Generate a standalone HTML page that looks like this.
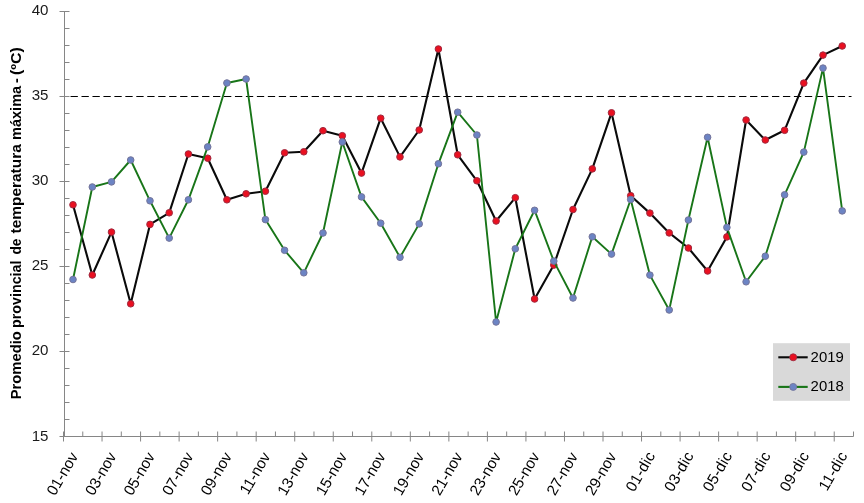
<!DOCTYPE html>
<html lang="es"><head><meta charset="utf-8"><title>Promedio provincial de temperatura máxima</title>
<style>html,body{margin:0;padding:0;background:#fff;overflow:hidden}svg{display:block}</style></head>
<body>
<svg width="864" height="503" viewBox="0 0 864 503" style="display:block">
<rect width="864" height="503" fill="#fff"/>
<g stroke="#868686" stroke-width="1" fill="none" shape-rendering="auto">
<line x1="64.5" y1="11.5" x2="64.5" y2="436.5"/>
<line x1="64.5" y1="436.5" x2="853.5" y2="436.5"/>
<line x1="59.5" y1="436.5" x2="69.5" y2="436.5"/>
<line x1="64.5" y1="419.5" x2="69.5" y2="419.5"/>
<line x1="64.5" y1="402.5" x2="69.5" y2="402.5"/>
<line x1="64.5" y1="385.5" x2="69.5" y2="385.5"/>
<line x1="64.5" y1="368.5" x2="69.5" y2="368.5"/>
<line x1="59.5" y1="351.5" x2="69.5" y2="351.5"/>
<line x1="64.5" y1="334.5" x2="69.5" y2="334.5"/>
<line x1="64.5" y1="317.5" x2="69.5" y2="317.5"/>
<line x1="64.5" y1="300.5" x2="69.5" y2="300.5"/>
<line x1="64.5" y1="283.5" x2="69.5" y2="283.5"/>
<line x1="59.5" y1="266.5" x2="69.5" y2="266.5"/>
<line x1="64.5" y1="249.5" x2="69.5" y2="249.5"/>
<line x1="64.5" y1="232.5" x2="69.5" y2="232.5"/>
<line x1="64.5" y1="215.5" x2="69.5" y2="215.5"/>
<line x1="64.5" y1="198.5" x2="69.5" y2="198.5"/>
<line x1="59.5" y1="181.5" x2="69.5" y2="181.5"/>
<line x1="64.5" y1="164.5" x2="69.5" y2="164.5"/>
<line x1="64.5" y1="147.5" x2="69.5" y2="147.5"/>
<line x1="64.5" y1="130.5" x2="69.5" y2="130.5"/>
<line x1="64.5" y1="113.5" x2="69.5" y2="113.5"/>
<line x1="59.5" y1="96.5" x2="69.5" y2="96.5"/>
<line x1="64.5" y1="79.5" x2="69.5" y2="79.5"/>
<line x1="64.5" y1="62.5" x2="69.5" y2="62.5"/>
<line x1="64.5" y1="45.5" x2="69.5" y2="45.5"/>
<line x1="64.5" y1="28.5" x2="69.5" y2="28.5"/>
<line x1="59.5" y1="11.5" x2="69.5" y2="11.5"/>
<line x1="63.50" y1="431.5" x2="63.50" y2="441.5"/>
<line x1="82.77" y1="431.5" x2="82.77" y2="436.5"/>
<line x1="102.04" y1="431.5" x2="102.04" y2="441.5"/>
<line x1="121.30" y1="431.5" x2="121.30" y2="436.5"/>
<line x1="140.57" y1="431.5" x2="140.57" y2="441.5"/>
<line x1="159.84" y1="431.5" x2="159.84" y2="436.5"/>
<line x1="179.11" y1="431.5" x2="179.11" y2="441.5"/>
<line x1="198.38" y1="431.5" x2="198.38" y2="436.5"/>
<line x1="217.64" y1="431.5" x2="217.64" y2="441.5"/>
<line x1="236.91" y1="431.5" x2="236.91" y2="436.5"/>
<line x1="256.18" y1="431.5" x2="256.18" y2="441.5"/>
<line x1="275.45" y1="431.5" x2="275.45" y2="436.5"/>
<line x1="294.72" y1="431.5" x2="294.72" y2="441.5"/>
<line x1="313.98" y1="431.5" x2="313.98" y2="436.5"/>
<line x1="333.25" y1="431.5" x2="333.25" y2="441.5"/>
<line x1="352.52" y1="431.5" x2="352.52" y2="436.5"/>
<line x1="371.79" y1="431.5" x2="371.79" y2="441.5"/>
<line x1="391.06" y1="431.5" x2="391.06" y2="436.5"/>
<line x1="410.32" y1="431.5" x2="410.32" y2="441.5"/>
<line x1="429.59" y1="431.5" x2="429.59" y2="436.5"/>
<line x1="448.86" y1="431.5" x2="448.86" y2="441.5"/>
<line x1="468.13" y1="431.5" x2="468.13" y2="436.5"/>
<line x1="487.40" y1="431.5" x2="487.40" y2="441.5"/>
<line x1="506.66" y1="431.5" x2="506.66" y2="436.5"/>
<line x1="525.93" y1="431.5" x2="525.93" y2="441.5"/>
<line x1="545.20" y1="431.5" x2="545.20" y2="436.5"/>
<line x1="564.47" y1="431.5" x2="564.47" y2="441.5"/>
<line x1="583.74" y1="431.5" x2="583.74" y2="436.5"/>
<line x1="603.00" y1="431.5" x2="603.00" y2="441.5"/>
<line x1="622.27" y1="431.5" x2="622.27" y2="436.5"/>
<line x1="641.54" y1="431.5" x2="641.54" y2="441.5"/>
<line x1="660.81" y1="431.5" x2="660.81" y2="436.5"/>
<line x1="680.08" y1="431.5" x2="680.08" y2="441.5"/>
<line x1="699.34" y1="431.5" x2="699.34" y2="436.5"/>
<line x1="718.61" y1="431.5" x2="718.61" y2="441.5"/>
<line x1="737.88" y1="431.5" x2="737.88" y2="436.5"/>
<line x1="757.15" y1="431.5" x2="757.15" y2="441.5"/>
<line x1="776.42" y1="431.5" x2="776.42" y2="436.5"/>
<line x1="795.68" y1="431.5" x2="795.68" y2="441.5"/>
<line x1="814.95" y1="431.5" x2="814.95" y2="436.5"/>
<line x1="834.22" y1="431.5" x2="834.22" y2="441.5"/>
<line x1="853.49" y1="431.5" x2="853.49" y2="436.5"/>
</g>
<line x1="70.55" y1="96.5" x2="851.5" y2="96.5" stroke="#000" stroke-width="1.2" stroke-dasharray="7.3 3.66"/>
<polyline points="73.0,204.8 92.3,275.0 111.5,232.1 130.7,303.8 150.0,224.4 169.2,212.8 188.4,154.0 207.7,158.2 226.9,199.8 246.1,193.8 265.4,191.2 284.6,152.8 303.8,151.8 323.0,130.7 342.3,135.7 361.5,173.1 380.7,118.2 400.0,156.9 419.2,130.0 438.4,49.0 457.7,154.8 476.9,180.8 496.1,221.0 515.3,197.7 534.6,299.0 553.8,265.1 573.0,209.5 592.3,168.9 611.5,112.8 630.7,195.7 649.9,213.1 669.2,232.9 688.4,248.0 707.6,271.0 726.9,236.9 746.1,120.0 765.3,140.0 784.6,130.3 803.8,83.1 823.0,55.1 842.2,46.0" fill="none" stroke="#0a0a0a" stroke-width="2.1" stroke-linejoin="round"/>
<g fill="#ea1020" stroke="#a02a40" stroke-width="1">
<circle cx="73.0" cy="204.8" r="3.3"/>
<circle cx="92.3" cy="275.0" r="3.3"/>
<circle cx="111.5" cy="232.1" r="3.3"/>
<circle cx="130.7" cy="303.8" r="3.3"/>
<circle cx="150.0" cy="224.4" r="3.3"/>
<circle cx="169.2" cy="212.8" r="3.3"/>
<circle cx="188.4" cy="154.0" r="3.3"/>
<circle cx="207.7" cy="158.2" r="3.3"/>
<circle cx="226.9" cy="199.8" r="3.3"/>
<circle cx="246.1" cy="193.8" r="3.3"/>
<circle cx="265.4" cy="191.2" r="3.3"/>
<circle cx="284.6" cy="152.8" r="3.3"/>
<circle cx="303.8" cy="151.8" r="3.3"/>
<circle cx="323.0" cy="130.7" r="3.3"/>
<circle cx="342.3" cy="135.7" r="3.3"/>
<circle cx="361.5" cy="173.1" r="3.3"/>
<circle cx="380.7" cy="118.2" r="3.3"/>
<circle cx="400.0" cy="156.9" r="3.3"/>
<circle cx="419.2" cy="130.0" r="3.3"/>
<circle cx="438.4" cy="49.0" r="3.3"/>
<circle cx="457.7" cy="154.8" r="3.3"/>
<circle cx="476.9" cy="180.8" r="3.3"/>
<circle cx="496.1" cy="221.0" r="3.3"/>
<circle cx="515.3" cy="197.7" r="3.3"/>
<circle cx="534.6" cy="299.0" r="3.3"/>
<circle cx="553.8" cy="265.1" r="3.3"/>
<circle cx="573.0" cy="209.5" r="3.3"/>
<circle cx="592.3" cy="168.9" r="3.3"/>
<circle cx="611.5" cy="112.8" r="3.3"/>
<circle cx="630.7" cy="195.7" r="3.3"/>
<circle cx="649.9" cy="213.1" r="3.3"/>
<circle cx="669.2" cy="232.9" r="3.3"/>
<circle cx="688.4" cy="248.0" r="3.3"/>
<circle cx="707.6" cy="271.0" r="3.3"/>
<circle cx="726.9" cy="236.9" r="3.3"/>
<circle cx="746.1" cy="120.0" r="3.3"/>
<circle cx="765.3" cy="140.0" r="3.3"/>
<circle cx="784.6" cy="130.3" r="3.3"/>
<circle cx="803.8" cy="83.1" r="3.3"/>
<circle cx="823.0" cy="55.1" r="3.3"/>
<circle cx="842.2" cy="46.0" r="3.3"/>
</g>
<polyline points="73.0,279.5 92.3,187.0 111.5,181.9 130.7,160.0 150.0,200.8 169.2,238.1 188.4,199.8 207.7,146.9 226.9,83.0 246.1,79.0 265.4,219.6 284.6,250.3 303.8,272.8 323.0,233.0 342.3,142.0 361.5,196.9 380.7,223.2 400.0,257.3 419.2,223.9 438.4,163.8 457.7,112.2 476.9,135.0 496.1,322.0 515.3,248.8 534.6,210.3 553.8,261.1 573.0,298.0 592.3,236.8 611.5,254.1 630.7,199.5 649.9,275.1 669.2,310.0 688.4,220.0 707.6,137.3 726.9,227.4 746.1,281.8 765.3,256.2 784.6,194.8 803.8,152.1 823.0,68.1 842.2,210.9" fill="none" stroke="#187518" stroke-width="1.9" stroke-linejoin="round"/>
<g fill="#6c84c4" stroke="#74749a" stroke-width="1">
<circle cx="73.0" cy="279.5" r="3.3"/>
<circle cx="92.3" cy="187.0" r="3.3"/>
<circle cx="111.5" cy="181.9" r="3.3"/>
<circle cx="130.7" cy="160.0" r="3.3"/>
<circle cx="150.0" cy="200.8" r="3.3"/>
<circle cx="169.2" cy="238.1" r="3.3"/>
<circle cx="188.4" cy="199.8" r="3.3"/>
<circle cx="207.7" cy="146.9" r="3.3"/>
<circle cx="226.9" cy="83.0" r="3.3"/>
<circle cx="246.1" cy="79.0" r="3.3"/>
<circle cx="265.4" cy="219.6" r="3.3"/>
<circle cx="284.6" cy="250.3" r="3.3"/>
<circle cx="303.8" cy="272.8" r="3.3"/>
<circle cx="323.0" cy="233.0" r="3.3"/>
<circle cx="342.3" cy="142.0" r="3.3"/>
<circle cx="361.5" cy="196.9" r="3.3"/>
<circle cx="380.7" cy="223.2" r="3.3"/>
<circle cx="400.0" cy="257.3" r="3.3"/>
<circle cx="419.2" cy="223.9" r="3.3"/>
<circle cx="438.4" cy="163.8" r="3.3"/>
<circle cx="457.7" cy="112.2" r="3.3"/>
<circle cx="476.9" cy="135.0" r="3.3"/>
<circle cx="496.1" cy="322.0" r="3.3"/>
<circle cx="515.3" cy="248.8" r="3.3"/>
<circle cx="534.6" cy="210.3" r="3.3"/>
<circle cx="553.8" cy="261.1" r="3.3"/>
<circle cx="573.0" cy="298.0" r="3.3"/>
<circle cx="592.3" cy="236.8" r="3.3"/>
<circle cx="611.5" cy="254.1" r="3.3"/>
<circle cx="630.7" cy="199.5" r="3.3"/>
<circle cx="649.9" cy="275.1" r="3.3"/>
<circle cx="669.2" cy="310.0" r="3.3"/>
<circle cx="688.4" cy="220.0" r="3.3"/>
<circle cx="707.6" cy="137.3" r="3.3"/>
<circle cx="726.9" cy="227.4" r="3.3"/>
<circle cx="746.1" cy="281.8" r="3.3"/>
<circle cx="765.3" cy="256.2" r="3.3"/>
<circle cx="784.6" cy="194.8" r="3.3"/>
<circle cx="803.8" cy="152.1" r="3.3"/>
<circle cx="823.0" cy="68.1" r="3.3"/>
<circle cx="842.2" cy="210.9" r="3.3"/>
</g>
<g font-family="'Liberation Sans', sans-serif" font-size="15.3" fill="#1a1a1a" text-anchor="end">
<text x="48.5" y="440.7" textLength="16.8" lengthAdjust="spacingAndGlyphs">15</text>
<text x="48.5" y="355.1" textLength="16.8" lengthAdjust="spacingAndGlyphs">20</text>
<text x="48.5" y="270.1" textLength="16.8" lengthAdjust="spacingAndGlyphs">25</text>
<text x="48.5" y="185.1" textLength="16.8" lengthAdjust="spacingAndGlyphs">30</text>
<text x="48.5" y="100.1" textLength="16.8" lengthAdjust="spacingAndGlyphs">35</text>
<text x="48.5" y="15.1" textLength="16.8" lengthAdjust="spacingAndGlyphs">40</text>
</g>
<g font-family="'Liberation Sans', sans-serif" font-size="15.3" fill="#000" text-anchor="end">
<text transform="translate(78.5,456.0) rotate(-60)">01-nov</text>
<text transform="translate(116.9,456.0) rotate(-60)">03-nov</text>
<text transform="translate(155.4,456.0) rotate(-60)">05-nov</text>
<text transform="translate(193.8,456.0) rotate(-60)">07-nov</text>
<text transform="translate(232.3,456.0) rotate(-60)">09-nov</text>
<text transform="translate(270.8,456.0) rotate(-60)">11-nov</text>
<text transform="translate(309.2,456.0) rotate(-60)">13-nov</text>
<text transform="translate(347.7,456.0) rotate(-60)">15-nov</text>
<text transform="translate(386.1,456.0) rotate(-60)">17-nov</text>
<text transform="translate(424.6,456.0) rotate(-60)">19-nov</text>
<text transform="translate(463.1,456.0) rotate(-60)">21-nov</text>
<text transform="translate(501.5,456.0) rotate(-60)">23-nov</text>
<text transform="translate(540.0,456.0) rotate(-60)">25-nov</text>
<text transform="translate(578.4,456.0) rotate(-60)">27-nov</text>
<text transform="translate(616.9,456.0) rotate(-60)">29-nov</text>
<text transform="translate(655.7,455.4) rotate(-60)" letter-spacing="0.25">01-dic</text>
<text transform="translate(694.2,455.4) rotate(-60)" letter-spacing="0.25">03-dic</text>
<text transform="translate(732.7,455.4) rotate(-60)" letter-spacing="0.25">05-dic</text>
<text transform="translate(771.1,455.4) rotate(-60)" letter-spacing="0.25">07-dic</text>
<text transform="translate(809.6,455.4) rotate(-60)" letter-spacing="0.25">09-dic</text>
<text transform="translate(848.0,455.4) rotate(-60)" letter-spacing="0.25">11-dic</text>
</g>
<text transform="translate(20.6,399.3) rotate(-90)" font-family="'Liberation Sans', sans-serif" font-weight="bold" font-size="14.2" fill="#000"><tspan x="0.0" textLength="68.1" lengthAdjust="spacingAndGlyphs">Promedio</tspan> <tspan x="71.4" textLength="67.4" lengthAdjust="spacingAndGlyphs">provincial</tspan> <tspan x="144.7" textLength="16.1" lengthAdjust="spacingAndGlyphs">de</tspan> <tspan x="165.9" textLength="89.2" lengthAdjust="spacingAndGlyphs">temperatura</tspan> <tspan x="259.3" textLength="54.2" lengthAdjust="spacingAndGlyphs">máxima</tspan> <tspan x="316.4">-</tspan> <tspan x="324.3" textLength="27.8" lengthAdjust="spacingAndGlyphs">(ºC)</tspan></text>
<rect x="773" y="343.2" width="77" height="57.6" fill="#d9d9d9"/>
<line x1="778.3" y1="357.3" x2="807.7" y2="357.3" stroke="#0a0a0a" stroke-width="2.1"/>
<circle cx="793.2" cy="357.3" r="3.5" fill="#ea1020" stroke="#a02a40" stroke-width="0.9"/>
<text x="810.6" y="361.6" font-family="'Liberation Sans', sans-serif" font-size="14.6" fill="#000" textLength="33.2" lengthAdjust="spacingAndGlyphs">2019</text>
<line x1="778.3" y1="386.9" x2="807.7" y2="386.9" stroke="#187518" stroke-width="2.1"/>
<circle cx="793.2" cy="386.9" r="3.5" fill="#6c84c4" stroke="#74749a" stroke-width="0.9"/>
<text x="810.6" y="391.2" font-family="'Liberation Sans', sans-serif" font-size="14.6" fill="#000" textLength="33.2" lengthAdjust="spacingAndGlyphs">2018</text>
</svg>
</body></html>
